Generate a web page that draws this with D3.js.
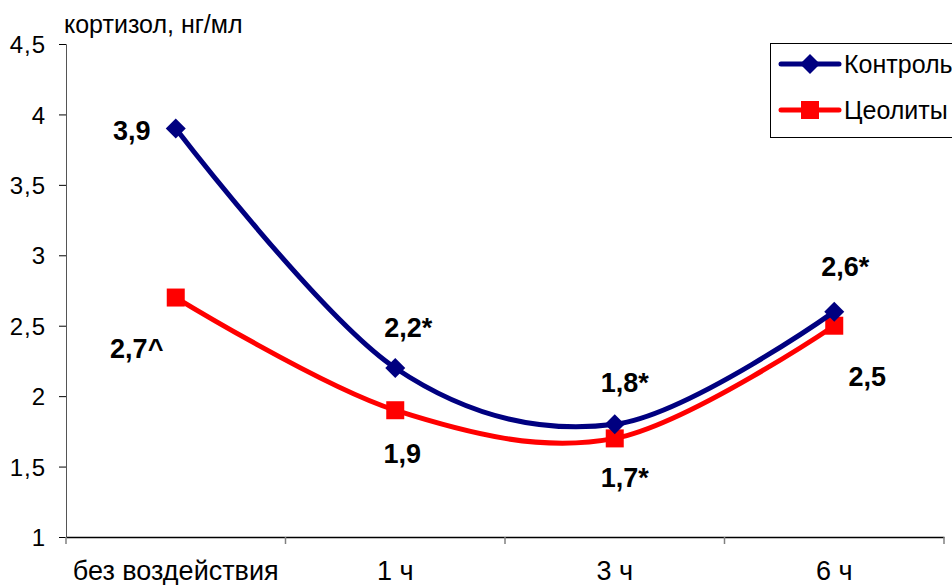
<!DOCTYPE html>
<html><head><meta charset="utf-8">
<script src="https://cdn.jsdelivr.net/npm/d3@7"></script>
<style>body{margin:0;background:#fff}svg{display:block;font-family:"Liberation Sans",Arial,sans-serif}</style>
</head><body><svg id="c" width="952" height="585"></svg>
<script>
const categories = ["без воздействия", "1 ч", "3 ч", "6 ч"];
const control = [3.9, 2.2, 1.8, 2.6];
const zeolite = [2.7, 1.9, 1.7, 2.5];
const controlLabels = ["3,9", "2,2*", "1,8*", "2,6*"];
const zeoliteLabels = ["2,7^", "1,9", "1,7*", "2,5"];
const yTicks = [1, 1.5, 2, 2.5, 3, 3.5, 4, 4.5];
const seriesNames = ["Контроль", "Цеолиты"];

(function () {
const svg = d3.select("#c");
const mL = 66, mR = 944, mT = 44, mB = 537;
const x = d3.scaleBand().domain(categories).range([mL, mR]);
const y = d3.scaleLinear().domain([1, 4.5]).range([mB, mT]);
const fmt = d => String(d).replace(".", ",");

// y axis
const ya = svg.append("g").attr("transform", `translate(${mL},0)`)
  .call(d3.axisLeft(y).tickValues(yTicks).tickSize(7).tickFormat(fmt));
ya.select(".domain").attr("stroke", "#555").attr("stroke-width", 1);
ya.selectAll(".tick line").attr("stroke", "#000");
ya.selectAll(".tick text").attr("font-size", 24).attr("fill", "#000").attr("x", -20)
  .attr("dy", "0.36em").attr("letter-spacing", 1)
  .attr("font-family", "Liberation Sans, Arial, sans-serif");

// x axis
const xa = svg.append("g").attr("transform", `translate(0,${mB})`)
  .call(d3.axisBottom(x).tickSize(0));
xa.select(".domain").attr("stroke", "#000").attr("stroke-width", 1.5);
xa.selectAll(".tick text").attr("font-size", 27).attr("fill", "#000").attr("y", 43).attr("dy", 0)
  .attr("font-family", "Liberation Sans, Arial, sans-serif");
const bounds = categories.map(c => x(c)).concat([x(categories[categories.length-1]) + x.bandwidth()]);
svg.append("g").selectAll("line").data(bounds).join("line")
  .attr("x1", d => d).attr("x2", d => d).attr("y1", mB).attr("y2", mB + 7)
  .attr("stroke", "#808080").attr("stroke-width", 1.5);

// y title
svg.append("text").attr("x", 64).attr("y", 33).attr("font-size", 25).text("кортизол, нг/мл");

const cx = c => x(c) + x.bandwidth() / 2;
const line = d3.line().x((d, i) => cx(categories[i])).y(d => y(d)).curve(d3.curveCatmullRom.alpha(0));

function drawSeries(vals, color, marker) {
  svg.append("path").datum(vals).attr("d", line).attr("fill", "none")
    .attr("stroke", color).attr("stroke-width", 5).attr("stroke-linejoin", "round");
  const g = svg.append("g");
  vals.forEach((v, i) => {
    const px = cx(categories[i]), py = y(v);
    if (marker === "diamond") {
      g.append("path").attr("d", `M${px},${py-10}L${px+10},${py}L${px},${py+10}L${px-10},${py}Z`).attr("fill", color);
    } else {
      g.append("rect").attr("x", px - 9).attr("y", py - 9).attr("width", 18).attr("height", 18).attr("fill", color);
    }
  });
}
drawSeries(zeolite, "#ff0000", "square");
drawSeries(control, "#000080", "diamond");

// data labels
const cOff = [[-44, 11], [13, -31], [10, -32], [11, -36]];
const zOff = [[-39, 60], [7, 53], [10, 49], [33, 60]];
const lg = svg.append("g").attr("font-size", 27).attr("font-weight", "bold").attr("text-anchor", "middle");
control.forEach((v, i) => lg.append("text").attr("x", cx(categories[i]) + cOff[i][0]).attr("y", y(v) + cOff[i][1]).text(controlLabels[i]));
zeolite.forEach((v, i) => lg.append("text").attr("x", cx(categories[i]) + zOff[i][0]).attr("y", y(v) + zOff[i][1]).text(zeoliteLabels[i]));

// legend
const leg = svg.append("g");
leg.append("rect").attr("x", 770.5).attr("y", 43.5).attr("width", 200).attr("height", 94)
  .attr("fill", "#fff").attr("stroke", "#000").attr("stroke-width", 1);
const legColors = ["#000080", "#ff0000"];
seriesNames.forEach((n, i) => {
  const ly = 64 + i * 46;
  leg.append("line").attr("x1", 781).attr("x2", 839).attr("y1", ly).attr("y2", ly)
    .attr("stroke", legColors[i]).attr("stroke-width", 5).attr("stroke-linecap", "round");
  if (i === 0) leg.append("path").attr("d", `M810,${ly-10}L820,${ly}L810,${ly+10}L800,${ly}Z`).attr("fill", legColors[i]);
  else leg.append("rect").attr("x", 801).attr("y", ly - 9).attr("width", 18).attr("height", 18).attr("fill", legColors[i]);
  leg.append("text").attr("x", 844).attr("y", ly + 9).attr("font-size", 25).text(n);
});
})();
</script></body></html>
